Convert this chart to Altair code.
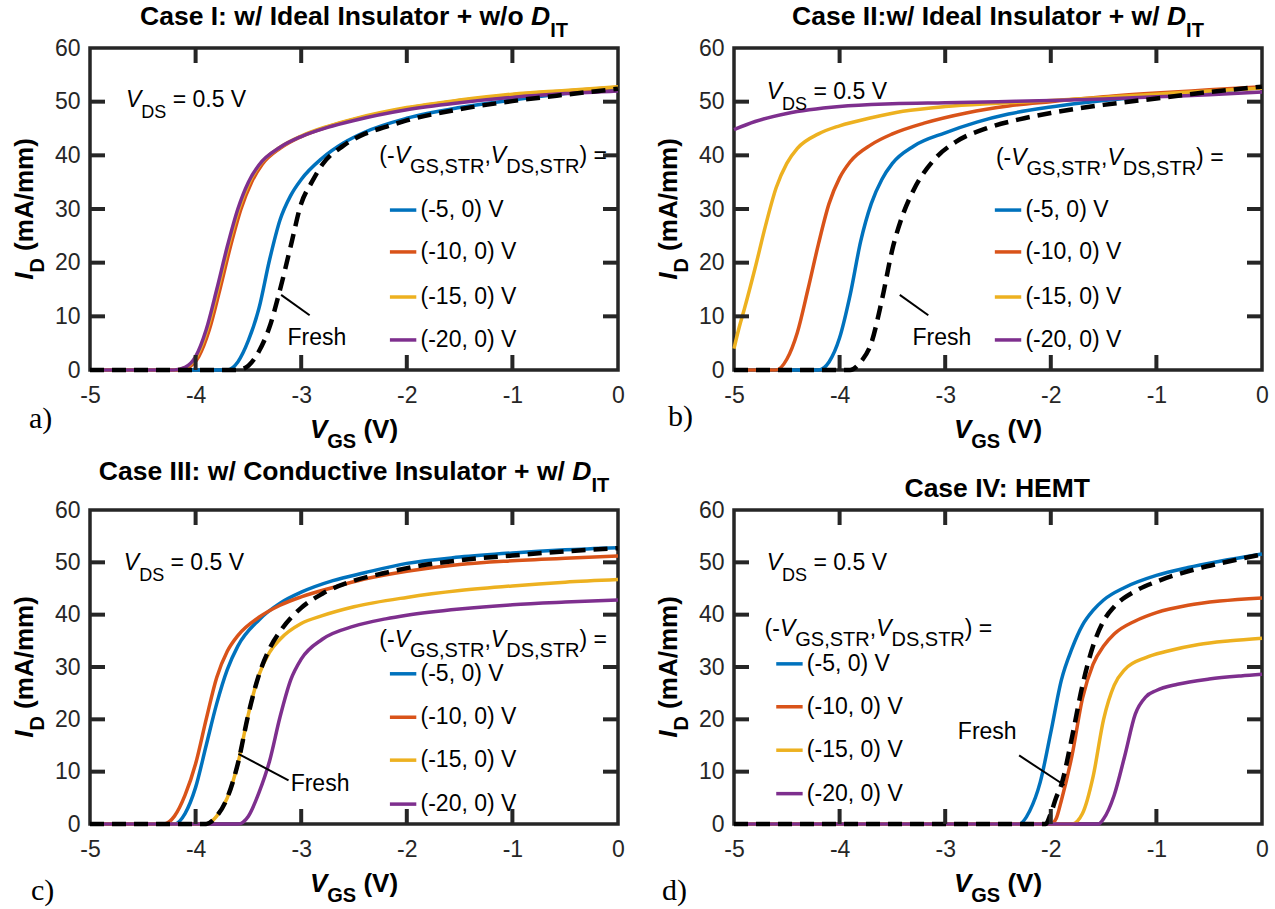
import altair as alt
import pandas as pd

FONT = "Liberation Sans"
SERIF = "Liberation Serif"
INK = "#262626"

# ---------------- transfer curves: (V_GS in V, I_D in mA/mm) ----------------
# Case I: ideal insulator, no interface traps
C1_STR5 = [(-5, 0), (-3.7, 0), (-3.6, 1.5), (-3.5, 5.5), (-3.4, 11.5), (-3.3, 20.5), (-3.2, 28),
           (-3.1, 32.5), (-3.0, 35.5), (-2.8, 39.5), (-2.6, 42.3), (-2.4, 44.3), (-2.0, 46.9),
           (-1.5, 48.9), (-1.0, 50.3), (-0.5, 51.5), (0, 52.4)]
C1_STR10 = [(-5, 0), (-4.17, 0), (-4.07, 0.5), (-3.97, 2.5), (-3.87, 7.5), (-3.77, 15), (-3.67, 23),
            (-3.57, 30), (-3.47, 35), (-3.37, 38.3), (-3.2, 41.3), (-3.0, 43.5), (-2.75, 45.3),
            (-2.5, 46.7), (-2.0, 48.8), (-1.5, 50.2), (-1.0, 51.3), (-0.5, 52.0), (0, 52.7)]
C1_STR15 = [(-5, 0), (-4.19, 0), (-4.09, 0.5), (-3.99, 2.5), (-3.89, 7.5), (-3.79, 15), (-3.69, 23),
            (-3.59, 30), (-3.49, 35), (-3.39, 38.3), (-3.2, 41.5), (-3.0, 43.6), (-2.75, 45.4),
            (-2.5, 46.8), (-2.0, 48.9), (-1.5, 50.3), (-1.0, 51.4), (-0.5, 52.1), (0, 52.8)]
C1_STR20 = [(-5, 0), (-4.2, 0), (-4.1, 0.5), (-4.0, 2.5), (-3.9, 7.5), (-3.8, 15), (-3.7, 23),
            (-3.6, 30), (-3.5, 35), (-3.4, 38.2), (-3.2, 41.5), (-3.0, 43.5), (-2.75, 45.2),
            (-2.5, 46.5), (-2.0, 48.5), (-1.5, 49.8), (-1.0, 50.8), (-0.5, 51.5), (0, 52.0)]
C1_FRESH = [(-5, 0), (-3.6, 0), (-3.5, 0.8), (-3.4, 3.5), (-3.3, 8), (-3.2, 15), (-3.1, 23),
            (-3.0, 31), (-2.9, 35), (-2.8, 38.3), (-2.6, 41.8), (-2.4, 44), (-2.2, 45.3),
            (-2.0, 46.5), (-1.5, 48.6), (-1.0, 50.1), (-0.5, 51.3), (0, 52.4)]

# Case II: ideal insulator with interface traps
C2_STR5 = [(-5, 0), (-4.2, 0), (-4.1, 1.5), (-4.0, 6), (-3.9, 14), (-3.8, 24), (-3.7, 31),
           (-3.6, 35.5), (-3.5, 38.5), (-3.3, 41.7), (-3.0, 44.2), (-2.7, 46.2), (-2.4, 47.7),
           (-2.0, 49), (-1.5, 50.2), (-1.0, 51.1), (-0.5, 51.9), (0, 52.6)]
C2_STR10 = [(-5, 0), (-4.6, 0), (-4.5, 2), (-4.4, 7), (-4.3, 15), (-4.2, 23.5), (-4.1, 31),
            (-4.0, 35.8), (-3.9, 38.8), (-3.7, 42), (-3.5, 44), (-3.2, 46), (-2.8, 47.9),
            (-2.4, 49.2), (-2.0, 50), (-1.5, 50.9), (-1.0, 51.6), (-0.5, 52.2), (0, 52.8)]
C2_STR15 = [(-5, 4), (-4.95, 8), (-4.9, 11.5), (-4.8, 19), (-4.7, 27), (-4.6, 34), (-4.5, 38.5),
            (-4.4, 41.3), (-4.2, 44), (-4.0, 45.5), (-3.7, 47), (-3.4, 48.2), (-3.0, 49.1),
            (-2.5, 49.7), (-2.0, 50.2), (-1.5, 50.8), (-1.0, 51.4), (-0.5, 52.0), (0, 52.5)]
C2_STR20 = [(-5, 44.8), (-4.8, 46.3), (-4.5, 47.8), (-4.0, 49.1), (-3.5, 49.6), (-3.0, 49.8),
            (-2.5, 50.0), (-2.0, 50.2), (-1.5, 50.5), (-1.0, 50.9), (-0.5, 51.3), (0, 51.8)]
C2_FRESH = [(-5, 0), (-3.9, 0), (-3.8, 1.5), (-3.7, 5), (-3.6, 13), (-3.5, 22.5), (-3.4, 29),
            (-3.3, 33.5), (-3.1, 39.3), (-2.9, 42.5), (-2.6, 45.1), (-2.3, 46.7), (-2.0, 47.9),
            (-1.5, 49.4), (-1.0, 50.6), (-0.5, 51.8), (0, 52.8)]

# Case III: conductive insulator with interface traps
C3_STR5 = [(-5, 0), (-4.2, 0), (-4.1, 2), (-4.0, 7), (-3.9, 15), (-3.8, 23), (-3.7, 29.5),
           (-3.6, 34), (-3.4, 39), (-3.2, 42.2), (-3.0, 44.3), (-2.7, 46.5), (-2.4, 48),
           (-2.0, 49.8), (-1.5, 51), (-1.0, 51.8), (-0.5, 52.4), (0, 52.8)]
C3_STR10 = [(-5, 0), (-4.3, 0), (-4.2, 1.5), (-4.1, 5.5), (-4.0, 11.5), (-3.9, 20), (-3.8, 28),
            (-3.7, 33), (-3.6, 36), (-3.4, 39.5), (-3.2, 41.8), (-3.0, 43.4), (-2.7, 45.2),
            (-2.4, 46.8), (-2.0, 48.3), (-1.5, 49.6), (-1.0, 50.3), (-0.5, 50.8), (0, 51.2)]
C3_STR15 = [(-5, 0), (-3.9, 0), (-3.8, 1.5), (-3.7, 5), (-3.6, 11.5), (-3.5, 21), (-3.4, 28.5),
            (-3.3, 32.8), (-3.2, 35.3), (-3.0, 38.3), (-2.8, 39.8), (-2.5, 41.5), (-2.0, 43.3),
            (-1.5, 44.6), (-1.0, 45.5), (-0.5, 46.2), (0, 46.7)]
C3_STR20 = [(-5, 0), (-3.6, 0), (-3.5, 1.5), (-3.4, 6), (-3.3, 12), (-3.2, 20.5), (-3.1, 27.5),
            (-3.0, 31.5), (-2.8, 35.3), (-2.5, 37.8), (-2.2, 39.2), (-2.0, 39.9), (-1.5, 41.1),
            (-1.0, 41.9), (-0.5, 42.4), (0, 42.8)]
C3_FRESH = [(-5, 0), (-3.9, 0), (-3.8, 1.5), (-3.7, 5), (-3.6, 11.5), (-3.5, 21), (-3.4, 28.5),
            (-3.3, 33.5), (-3.2, 36.8), (-3.0, 41.3), (-2.8, 44), (-2.5, 46.5), (-2.2, 48),
            (-2.0, 48.9), (-1.5, 50.4), (-1.0, 51.3), (-0.5, 52.1), (0, 52.7)]

# Case IV: HEMT
C4_STR5 = [(-5, 0), (-2.3, 0), (-2.2, 2.5), (-2.1, 8), (-2.0, 17.5), (-1.9, 27.5), (-1.8, 33.5),
           (-1.7, 38), (-1.6, 40.8), (-1.5, 42.8), (-1.3, 45.2), (-1.0, 47.5), (-0.7, 49),
           (-0.4, 50.2), (0, 51.6)]
C4_STR10 = [(-5, 0), (-2.0, 0), (-1.95, 1), (-1.9, 4.5), (-1.8, 13), (-1.7, 24), (-1.6, 30.5),
            (-1.5, 34), (-1.4, 36.3), (-1.2, 38.8), (-1.0, 40.4), (-0.7, 41.8), (-0.4, 42.6),
            (0, 43.2)]
C4_STR15 = [(-5, 0), (-1.8, 0), (-1.7, 2), (-1.6, 9), (-1.5, 20), (-1.4, 26.5), (-1.3, 29.5),
            (-1.1, 31.8), (-0.9, 33), (-0.6, 34.3), (-0.3, 35), (0, 35.5)]
C4_STR20 = [(-5, 0), (-1.55, 0), (-1.5, 1), (-1.4, 5.5), (-1.3, 13), (-1.2, 21), (-1.1, 24.3),
            (-1.0, 25.5), (-0.8, 26.7), (-0.5, 27.7), (-0.2, 28.3), (0, 28.6)]
C4_FRESH = [(-5, 0), (-2.05, 0), (-2.0, 2), (-1.95, 5), (-1.9, 7.5), (-1.8, 16.5), (-1.7, 26.5),
            (-1.6, 34), (-1.5, 38.8), (-1.4, 41.5), (-1.2, 44.5), (-1.0, 46.3), (-0.7, 48.3),
            (-0.4, 49.8), (0, 51.5)]

STRESS = ["(-5, 0) V", "(-10, 0) V", "(-15, 0) V", "(-20, 0) V"]
COLORS = ["#0072BD", "#D95319", "#EDB120", "#7E2F8E"]
X_TICKS = [-5, -4, -3, -2, -1, 0]
Y_TICKS = [0, 10, 20, 30, 40, 50, 60]
X_RANGE = (-5, 0)
Y_RANGE = (0, 60)

# rich-text pieces: style flags b=bold, i=italic, s=subscript
TITLES = [
    [("Case I: w/ Ideal Insulator + w/o ", "b"), ("D", "bi"), ("IT", "bs")],
    [("Case II:w/ Ideal Insulator + w/ ", "b"), ("D", "bi"), ("IT", "bs")],
    [("Case III: w/ Conductive Insulator + w/ ", "b"), ("D", "bi"), ("IT", "bs")],
    [("Case IV: HEMT", "b")],
]
VDS_TEXT = [("V", "i"), ("DS", "s"), (" = 0.5 V", "")]
HEADER_TEXT = [("(-", ""), ("V", "i"), ("GS,STR", "s"), (",", ""), ("V", "i"),
               ("DS,STR", "s"), (") =", "")]
X_TITLE = [("V", "bi"), ("GS", "bs"), (" (V)", "b")]
Y_TITLE = [("I", "bi"), ("D", "bs"), (" (mA/mm)", "b")]
LETTERS = ["a)", "b)", "c)", "d)"]
FRESH_LABEL = "Fresh"

# annotation anchors (data units) and panel geometry
LAYOUT = [
    dict(h=322, title_y=-23, vds=(-4.66, 49.0), head=(-2.26, 38.6), key=(-2.16, -1.91, -1.87),
         rows=[29.8, 22.0, 13.6, 5.6], fresh=(-3.13, 4.7), ptr=(-3.19, 14.0, -2.92, 10.2),
         letter=(-61, 58)),
    dict(h=322, title_y=-23, vds=(-4.69, 50.5), head=(-2.52, 38.2), key=(-2.53, -2.28, -2.24),
         rows=[29.8, 22.0, 13.6, 5.6], fresh=(-3.31, 4.7), ptr=(-3.43, 14.0, -3.16, 10.2),
         letter=(-66, 56)),
    dict(h=314, title_y=-30, vds=(-4.68, 48.5), head=(-2.26, 33.8), key=(-2.16, -1.91, -1.87),
         rows=[28.7, 20.4, 12.2, 3.8], fresh=(-3.10, 6.3), ptr=(-3.595, 13.4, -3.12, 8.35),
         letter=(-59, 76)),
    dict(h=314, title_y=-13, vds=(-4.69, 48.5), head=(-4.71, 35.9), key=(-4.60, -4.35, -4.31),
         rows=[30.6, 22.4, 14.1, 5.8], fresh=(-2.88, 16.3), ptr=(-2.30, 13.1, -1.87, 7.4),
         letter=(-72, 76)),
]
CURVES = [
    [C1_STR5, C1_STR10, C1_STR15, C1_STR20, C1_FRESH],
    [C2_STR5, C2_STR10, C2_STR15, C2_STR20, C2_FRESH],
    [C3_STR5, C3_STR10, C3_STR15, C3_STR20, C3_FRESH],
    [C4_STR5, C4_STR10, C4_STR15, C4_STR20, C4_FRESH],
]

W = 528
TICK_LEN = 15  # px, drawn inward on all four sides

# Arial / Liberation Sans advance widths (1/1000 em)
REG_W = {" ": 278, "(": 333, ")": 333, "+": 584, ",": 278, "-": 333, ".": 278, "/": 278,
         ":": 278, "=": 584, "A": 667, "C": 722, "D": 722, "G": 778, "I": 278, "R": 722,
         "S": 667, "T": 611, "V": 667, "F": 611, "e": 556, "h": 556, "m": 833, "r": 333, "s": 500}
BOLD_W = {" ": 278, "(": 333, ")": 333, "+": 584, ",": 278, "-": 333, ".": 278, "/": 278,
          ":": 333, "=": 584, "A": 722, "C": 722, "D": 722, "E": 667, "G": 778, "H": 722,
          "I": 278, "M": 833, "R": 722, "S": 667, "T": 611, "V": 667, "a": 556, "c": 556,
          "d": 611, "e": 556, "i": 278, "l": 278, "m": 889, "n": 611, "o": 611, "r": 389,
          "s": 556, "t": 333, "u": 611, "v": 556, "w": 778}


def text_width(s, size, bold):
    table = BOLD_W if bold else REG_W
    return sum(table.get(c, 556) for c in s) * size / 1000.0


def rich_text(pieces, size, sub_size, sub_drop, anchor, data_mode, xs=None, ys=None,
              angle=0, center=False, color="black"):
    sizes = [sub_size if "s" in st else size for _, st in pieces]
    widths = [text_width(t, fs, "b" in st) for (t, st), fs in zip(pieces, sizes)]
    cursor = -sum(widths) / 2.0 if center else 0.0
    out = []
    for (t, st), fs, w in zip(pieces, sizes, widths):
        lead = len(t) - len(t.lstrip(" "))
        body = t.strip(" ")
        dx = cursor + text_width(" " * lead, fs, "b" in st)
        cursor += w
        if not body:
            continue
        src = pd.DataFrame({"x": [anchor[0]], "y": [anchor[1]]})
        mk = alt.Chart(src).mark_text(
            text=body, align="left", baseline="alphabetic", font=FONT, fontSize=fs,
            fontWeight="bold" if "b" in st else "normal",
            fontStyle="italic" if "i" in st else "normal",
            dx=dx, dy=sub_drop if "s" in st else 0, angle=angle, color=color)
        if data_mode:
            mk = mk.encode(x=alt.X("x:Q", scale=xs, axis=None), y=alt.Y("y:Q", scale=ys, axis=None))
        else:
            mk = mk.encode(x=alt.value(anchor[0]), y=alt.value(anchor[1]))
        out.append(mk)
    return out


def label_axis(orient, values, padding):
    return alt.Axis(orient=orient, values=values, title=None, domain=False, grid=False,
                    ticks=False, labelFont=FONT, labelFontSize=23, labelColor=INK,
                    labelPadding=padding, labelFlush=False, labelOverlap=False,
                    labelExpr="datum.value + ''")


def build_panel(idx):
    lay = LAYOUT[idx]
    H = lay["h"]
    xs = alt.Scale(domain=list(X_RANGE), nice=False, zero=False)
    ys = alt.Scale(domain=list(Y_RANGE), nice=False, zero=False)
    layers = []

    # stressed curves (the first one carries the labelled axes), then the fresh curve
    for k, (pts, col) in enumerate(zip(CURVES[idx][:4], COLORS)):
        df = pd.DataFrame(pts, columns=["v", "i"])
        ax_x = label_axis("bottom", X_TICKS, 14) if k == 0 else None
        ax_y = label_axis("left", Y_TICKS, 10) if k == 0 else None
        layers.append(alt.Chart(df).mark_line(color=col, strokeWidth=3.5, interpolate="monotone")
                      .encode(x=alt.X("v:Q", scale=xs, axis=ax_x),
                              y=alt.Y("i:Q", scale=ys, axis=ax_y)))
    fresh = pd.DataFrame(CURVES[idx][4], columns=["v", "i"])
    layers.append(alt.Chart(fresh).mark_line(color="black", strokeWidth=4.5, strokeDash=[14, 8],
                                             interpolate="monotone")
                  .encode(x=alt.X("v:Q", scale=xs, axis=None),
                          y=alt.Y("i:Q", scale=ys, axis=None)))

    # inward tick marks on all four sides of the box
    xt = pd.DataFrame({"t": X_TICKS[1:-1]})
    yt = pd.DataFrame({"t": Y_TICKS[1:-1]})
    for ypos in (H - TICK_LEN / 2, TICK_LEN / 2):
        layers.append(alt.Chart(xt).mark_tick(orient="vertical", size=TICK_LEN, thickness=4,
                                              color=INK, opacity=1).encode(
            x=alt.X("t:Q", scale=xs, axis=None), y=alt.value(ypos)))
    for xpos in (TICK_LEN / 2, W - TICK_LEN / 2):
        layers.append(alt.Chart(yt).mark_tick(orient="horizontal", size=TICK_LEN, thickness=4,
                                              color=INK, opacity=1).encode(
            y=alt.Y("t:Q", scale=ys, axis=None), x=alt.value(xpos)))

    # legend
    kx0, kx1, ktx = lay["key"]
    key = pd.DataFrame({"x": [kx0] * 4, "x2": [kx1] * 4, "tx": [ktx] * 4,
                        "y": lay["rows"], "label": STRESS})
    layers.append(alt.Chart(key).mark_rule(strokeWidth=3.5).encode(
        x=alt.X("x:Q", scale=xs, axis=None), x2="x2:Q", y=alt.Y("y:Q", scale=ys, axis=None),
        color=alt.Color("label:N", scale=alt.Scale(domain=STRESS, range=COLORS), legend=None)))
    layers.append(alt.Chart(key).mark_text(align="left", baseline="middle", font=FONT,
                                           fontSize=23, color="black").encode(
        x=alt.X("tx:Q", scale=xs, axis=None), y=alt.Y("y:Q", scale=ys, axis=None),
        text="label:N"))
    layers += rich_text(HEADER_TEXT, 23, 20, 10, lay["head"], True, xs, ys)
    layers += rich_text(VDS_TEXT, 23, 18, 11, lay["vds"], True, xs, ys)

    # "Fresh" label with its pointer
    px0, py0, px1, py1 = lay["ptr"]
    ptr = pd.DataFrame({"x": [px0], "y": [py0], "x2": [px1], "y2": [py1]})
    layers.append(alt.Chart(ptr).mark_rule(color="black", strokeWidth=2).encode(
        x=alt.X("x:Q", scale=xs, axis=None), y=alt.Y("y:Q", scale=ys, axis=None),
        x2="x2:Q", y2="y2:Q"))
    layers += rich_text([(FRESH_LABEL, "")], 23, 23, 0, lay["fresh"], True, xs, ys)

    # titles
    layers += rich_text(TITLES[idx], 26.5, 20, 12, (W / 2, lay["title_y"]), False, center=True)
    layers += rich_text(X_TITLE, 26, 20, 10, (W / 2, H + 68), False, center=True)
    layers += rich_text(Y_TITLE, 26, 20, 11, (-57, H / 2), False, angle=270, center=True)

    lx, ly = lay["letter"]
    layers.append(alt.Chart(pd.DataFrame({"k": [0]})).mark_text(
        text=LETTERS[idx], align="left", baseline="alphabetic", font=SERIF, fontSize=30,
        color="black").encode(x=alt.value(lx), y=alt.value(H + ly)))

    if idx == 0:
        # fixes the top-left corner of the whole figure
        layers.append(alt.Chart(pd.DataFrame({"k": [0]})).mark_rule(opacity=0, strokeWidth=0)
                      .encode(x=alt.value(-88), x2=alt.value(-88), y=alt.value(-46),
                              y2=alt.value(-46)))

    return (alt.layer(*layers).properties(width=W, height=H)
            .resolve_axis(x="independent", y="independent"))


chart = alt.concat(
    *[build_panel(i) for i in range(4)],
    columns=2,
    spacing={"row": 140, "column": 116},
    bounds="flush",
).configure_view(stroke=INK, strokeWidth=3.5).properties(padding=0, background="white")

chart.save("out.html", embed_options={"renderer": "svg", "actions": False})
